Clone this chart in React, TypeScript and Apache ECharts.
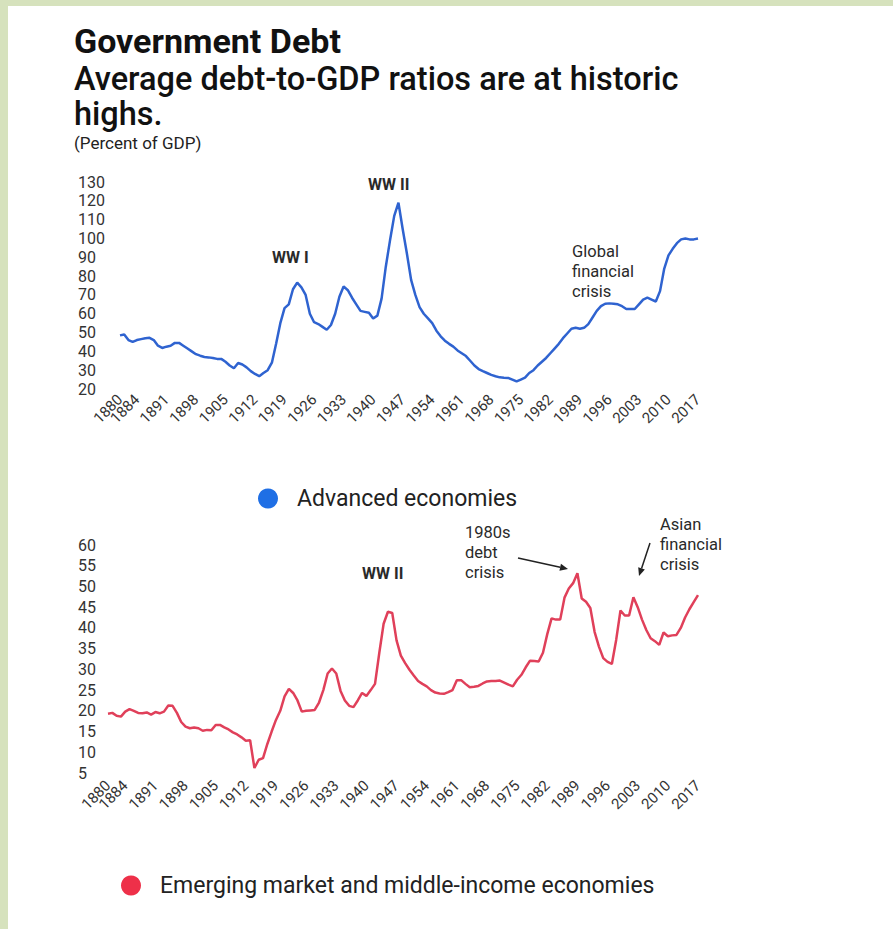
import React, { useEffect, useRef } from 'react';
import * as echarts from 'echarts';

const years: string[] = Array.from({ length: 138 }, (_, i) => String(1880 + i));

const tickYears = [1880, 1884, 1891, 1898, 1905, 1912, 1919, 1926, 1933, 1940, 1947, 1954, 1961, 1968, 1975, 1982, 1989, 1996, 2003, 2010, 2017];

const advancedName = 'Advanced economies';
const emergingName = 'Emerging market and middle-income economies';

// Advanced economies, 1880–2017 (percent of GDP)
const advanced = [
  48.5, 49, 46, 45, 46, 46.5, 47, 47.2, 46, 43,
  41.8, 42.5, 43, 44.5, 44.5, 43, 41.5, 40, 38.5, 37.7,
  37, 36.8, 36.5, 36, 36, 34.5, 32.5, 31, 33.8, 33,
  31.5, 29.5, 28, 26.8, 28.5, 30, 34, 44, 55, 63,
  65, 73, 76.5, 74, 70, 60, 55.5, 54.5, 53, 51.5,
  54, 60, 69, 74.5, 72.5, 68.5, 65, 61.5, 61, 60.5,
  57.5, 59, 68, 85, 99, 112, 119, 105, 92, 78,
  70, 63.5, 60, 57.5, 55, 51, 48, 45.7, 44, 42.5,
  40.5, 39, 37.5, 35, 32.5, 30.6, 29.5, 28.5, 27.5, 26.8,
  26.2, 26, 25.9, 25, 24, 25, 26, 28.5, 30, 32.5,
  34.5, 36.5, 39, 41.5, 44, 47, 49.5, 52, 52.5, 52,
  52.5, 54.5, 58, 61.5, 64, 65.3, 65.5, 65.3, 65, 64,
  62.5, 62.5, 62.5, 65, 67.5, 68.5, 67.5, 66.5, 72, 84,
  91, 94.5, 97.5, 99.5, 100, 99.5, 99.5, 100,
];

// Emerging market and middle-income economies, 1880–2017
const emerging = [
  19.3, 19.5, 18.8, 18.6, 19.8, 20.4, 20, 19.5, 19.4, 19.6,
  19.1, 19.7, 19.4, 19.8, 21.3, 21.2, 19.5, 17.3, 16.2, 15.8,
  16, 15.8, 15.2, 15.4, 15.3, 16.6, 16.6, 16, 15.5, 14.8,
  14.3, 13.6, 12.8, 12.9, 6.2, 8.2, 8.6, 12, 15, 17.8,
  20, 23.5, 25.3, 24.3, 22.5, 19.8, 20, 20.1, 20.2, 22,
  25, 29, 30.2, 29, 24.8, 22.5, 21.2, 20.9, 22.5, 24.3,
  23.6, 25, 26.5, 34, 41, 43.9, 43.6, 37, 33.3, 31.5,
  29.9, 28.5, 27.2, 26.5, 25.9, 25, 24.4, 24.2, 24.1, 24.5,
  25, 27.4, 27.4, 26.5, 25.7, 25.8, 26, 26.6, 27.1, 27.2,
  27.2, 27.3, 26.8, 26.3, 25.9, 27.5, 28.7, 30.5, 32.1, 32,
  31.9, 34, 38.5, 42.3, 42, 42, 47.3, 49.5, 50.8, 53.2,
  47.1, 46.3, 44.8, 39, 35.5, 32.7, 31.8, 31.3, 37.1, 44.2,
  43, 43, 47.4, 45, 42, 39.5, 37.5, 36.8, 35.9, 38.9,
  38, 38.2, 38.3, 40, 42.5, 44.5, 46.2, 47.9,
];

const FONT = 'Roboto, "Noto Sans", sans-serif';
const TEXT = '#222';

function arrow(x1: number, y1: number, x2: number, y2: number) {
  const dx = x2 - x1;
  const dy = y2 - y1;
  const len = Math.sqrt(dx * dx + dy * dy);
  const ux = dx / len;
  const uy = dy / len;
  const hl = 8;
  const hw = 3.5;
  const bx = x2 - ux * hl;
  const by = y2 - uy * hl;
  return [
    {
      type: 'line',
      shape: { x1, y1, x2: bx, y2: by },
      style: { stroke: '#222', lineWidth: 1.5 },
    },
    {
      type: 'polygon',
      shape: {
        points: [
          [x2, y2],
          [bx - uy * hw, by + ux * hw],
          [bx + uy * hw, by - ux * hw],
        ],
      },
      style: { fill: '#222' },
    },
  ];
}

function annot(x: number, y: number, text: string, bold = false) {
  return {
    type: 'text',
    x,
    y,
    style: {
      text,
      fontFamily: FONT,
      fontSize: bold ? 16 : 16.5,
      fontWeight: bold ? 'bold' : 'normal',
      lineHeight: 20,
      fill: '#2a2a2a',
      textVerticalAlign: 'top',
    },
  };
}

export default function App() {
  const ref = useRef<HTMLDivElement>(null);

  useEffect(() => {
    if (!ref.current) return;
    const chart = echarts.init(ref.current, undefined, { renderer: 'svg' });

    const firstYear = years[0];

    // main labels: every tick year except the first one
    const xLabel = {
      interval: (_i: number, v: string) => v !== firstYear && tickYears.includes(Number(v)),
      hideOverlap: false,
      rotate: 45,
      fontSize: 15,
      fontFamily: FONT,
      color: '#333',
      margin: 8,
    };
    // companion axis that carries only the first year's label
    const xLabelFirst = {
      ...xLabel,
      interval: (i: number) => i === 0,
      showMinLabel: true,
    };

    const xAxisCommon = {
      type: 'category',
      data: years,
      boundaryGap: false,
      position: 'bottom',
      axisLine: { show: false },
      axisTick: { show: false },
      splitLine: { show: false },
    };

    const legendCommon = {
      icon: 'circle',
      itemWidth: 20,
      itemHeight: 20,
      padding: 0,
      selectedMode: false,
      textStyle: { fontSize: 23, color: TEXT, fontFamily: FONT, padding: [0, 0, 0, 14] },
    };

    chart.setOption({
      animation: false,
      backgroundColor: '#ffffff',
      grid: [
        { left: 120, top: 182, width: 578, height: 207 },
        { left: 108, top: 545, width: 590, height: 228 },
      ],
      xAxis: [
        { ...xAxisCommon, gridIndex: 0, axisLabel: { ...xLabel } },
        { ...xAxisCommon, gridIndex: 1, axisLabel: { ...xLabel, margin: 10 } },
        { ...xAxisCommon, gridIndex: 0, offset: 0, axisLabel: { ...xLabelFirst } },
        { ...xAxisCommon, gridIndex: 1, offset: 0, axisLabel: { ...xLabelFirst, margin: 10 } },
      ],
      yAxis: [
        {
          type: 'value',
          gridIndex: 0,
          min: 20,
          max: 130,
          interval: 10,
          splitLine: { show: false },
          axisLine: { show: false },
          axisTick: { show: false },
          axisLabel: { align: 'left', margin: 42, fontSize: 16, fontFamily: FONT, color: '#333' },
        },
        {
          type: 'value',
          gridIndex: 1,
          min: 5,
          max: 60,
          interval: 5,
          splitLine: { show: false },
          axisLine: { show: false },
          axisTick: { show: false },
          axisLabel: { align: 'left', margin: 30, fontSize: 16, fontFamily: FONT, color: '#333' },
        },
      ],
      legend: [
        {
          ...legendCommon,
          data: [{ name: advancedName, itemStyle: { color: '#1f6fe5' } }],
          left: 258,
          top: 487,
        },
        {
          ...legendCommon,
          data: [{ name: emergingName, itemStyle: { color: '#ee3049' } }],
          left: 121,
          top: 874,
        },
      ],
      series: [
        {
          name: advancedName,
          type: 'line',
          xAxisIndex: 0,
          yAxisIndex: 0,
          data: advanced,
          showSymbol: false,
          lineStyle: { width: 2.5, color: '#2f63d0' },
          itemStyle: { color: '#2f63d0' },
        },
        {
          name: emergingName,
          type: 'line',
          xAxisIndex: 1,
          yAxisIndex: 1,
          data: emerging,
          showSymbol: false,
          lineStyle: { width: 2.5, color: '#e0405a' },
          itemStyle: { color: '#e0405a' },
        },
      ],
      graphic: [
        { type: 'rect', shape: { x: 0, y: 0, width: 8, height: 929 }, style: { fill: '#d6e2bd' } },
        { type: 'rect', shape: { x: 0, y: 0, width: 893, height: 6 }, style: { fill: '#d6e2bd' } },
        {
          type: 'text',
          x: 74,
          y: 24,
          style: { text: 'Government Debt', fontFamily: FONT, fontSize: 34, fontWeight: 'bold', fill: '#111', textVerticalAlign: 'top' },
        },
        {
          type: 'text',
          x: 74,
          y: 62,
          style: {
            text: 'Average debt-to-GDP ratios are at historic',
            fontFamily: FONT,
            fontSize: 32.5,
            fontWeight: 500,
            fill: '#111',
            textVerticalAlign: 'top',
          },
        },
        {
          type: 'text',
          x: 74,
          y: 97,
          style: {
            text: 'highs.',
            fontFamily: FONT,
            fontSize: 32.5,
            fontWeight: 500,
            fill: '#111',
            textVerticalAlign: 'top',
          },
        },
        {
          type: 'text',
          x: 74,
          y: 134,
          style: { text: '(Percent of GDP)', fontFamily: FONT, fontSize: 17, fill: '#222', textVerticalAlign: 'top' },
        },
        annot(272, 247, 'WW I', true),
        annot(368, 174, 'WW II', true),
        annot(572, 241, 'Global\nfinancial\ncrisis'),
        annot(362, 563, 'WW II', true),
        annot(465, 522, '1980s\ndebt\ncrisis'),
        annot(660, 514, 'Asian\nfinancial\ncrisis'),
        ...arrow(518, 558, 568, 569),
        ...arrow(650, 543, 639, 576),
      ],
    });

    return () => chart.dispose();
  }, []);

  return <div ref={ref} style={{ position: 'absolute', left: 0, top: 0, width: 893, height: 929 }} />;
}
